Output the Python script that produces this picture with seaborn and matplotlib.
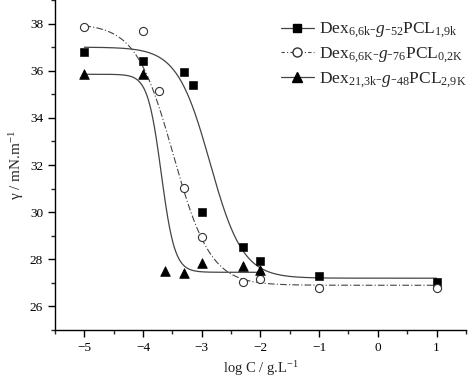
import numpy as np
import pandas as pd
import matplotlib
matplotlib.use('Agg')
import matplotlib.pyplot as plt
from matplotlib.lines import Line2D
from matplotlib.ticker import MultipleLocator
import seaborn as sns

sq_x = [-5, -4, -3.3, -3.15, -3, -2.3, -2, -1, 1]
sq_y = [36.8, 36.43, 35.96, 35.4, 30.02, 28.53, 27.94, 27.3, 27.05]

ci_x = [-5, -4, -3.72, -3.3, -3, -2.3, -2, -1, 1]
ci_y = [37.85, 37.7, 35.13, 31.03, 28.96, 27.05, 27.18, 26.8, 26.8]

tr_x = [-5, -4, -3.63, -3.3, -3, -2.3, -2]
tr_y = [35.85, 35.85, 27.5, 27.43, 27.85, 27.7, 27.55]

labels = [
    r'Dex$_{\mathrm{6{,}6k}}$-$g$-$_{\mathrm{52}}$PCL$_{\mathrm{1{,}9k}}$',
    r'Dex$_{\mathrm{6{,}6K}}$-$g$-$_{\mathrm{76}}$PCL$_{\mathrm{0{,}2K}}$',
    r'Dex$_{\mathrm{21{,}3k}}$-$g$-$_{\mathrm{48}}$PCL$_{\mathrm{2{,}9K}}$',
]

# Boltzmann fit parameters (top, bottom, x0, dx)
fit_sq = (37.0, 27.2, -2.86, 0.28)
fit_ci = (38.0, 26.9, -3.486, 0.318)
fit_tr = (35.85, 27.45, -3.69, 0.115)
# x range covered by each fitted curve
rng_sq = (-5, 1)
rng_ci = (-5, 1)
rng_tr = (-5, -2)


def boltzmann(x, p):
    a1, a2, x0, dx = p
    return a2 + (a1 - a2) / (1 + np.exp((x - x0) / dx))


def fit_curve(p, rng):
    xx = np.linspace(rng[0], rng[1], 400)
    return pd.DataFrame({'x': xx, 'y': boltzmann(xx, p)})


sns.set_style('ticks')
plt.rcParams['font.family'] = ['Liberation Serif', 'DejaVu Serif']
plt.rcParams['mathtext.fontset'] = 'custom'
plt.rcParams['mathtext.rm'] = 'Liberation Serif'
plt.rcParams['mathtext.it'] = 'Liberation Serif:italic'
plt.rcParams['xtick.direction'] = 'out'
plt.rcParams['ytick.direction'] = 'out'

fig = plt.figure(figsize=(4.68, 3.82), dpi=100)
ax = fig.add_axes([0.1175, 0.136, 0.878, 0.864])

line_col = '#444444'
dashdot = (0, (6, 2, 1, 2))
sns.lineplot(data=fit_curve(fit_sq, rng_sq), x='x', y='y', ax=ax, color=line_col, lw=0.9)
sns.lineplot(data=fit_curve(fit_ci, rng_ci), x='x', y='y', ax=ax, color=line_col, lw=0.8,
             linestyle=dashdot)
sns.lineplot(data=fit_curve(fit_tr, rng_tr), x='x', y='y', ax=ax, color=line_col, lw=0.9)

sns.scatterplot(x=sq_x, y=sq_y, ax=ax, marker='s', s=30, color='black', edgecolor='black', zorder=5)
sns.scatterplot(x=ci_x, y=ci_y, ax=ax, marker='o', s=34, facecolor='white', edgecolor='#333333',
                linewidth=0.8, zorder=5)
sns.scatterplot(x=tr_x, y=tr_y, ax=ax, marker='^', s=48, color='black', edgecolor='black', zorder=5)

ax.set_xlim(-5.5, 1.5)
ax.set_ylim(25, 39)
ax.xaxis.set_major_locator(MultipleLocator(1))
ax.xaxis.set_minor_locator(MultipleLocator(0.5))
ax.yaxis.set_major_locator(MultipleLocator(2))
ax.yaxis.set_minor_locator(MultipleLocator(1))
ax.tick_params(which='major', length=5, width=1, labelsize=9.5, colors='black')
ax.tick_params(which='minor', length=3, width=1)
sns.despine(ax=ax)
for s in ['left', 'bottom']:
    ax.spines[s].set_linewidth(1)
    ax.spines[s].set_color('black')

ax.set_xlabel(r'log C / g.L$^{-1}$', fontsize=10.5, labelpad=4)
ax.set_ylabel(r'γ / mN.m$^{-1}$', fontsize=11, labelpad=3)

handles = [
    Line2D([], [], color=line_col, lw=0.9, marker='s', markersize=6, markerfacecolor='black',
           markeredgecolor='black'),
    Line2D([], [], color=line_col, lw=0.8, linestyle=(0, (3, 2, 1, 2)), marker='o', markersize=6.5,
           markerfacecolor='white', markeredgecolor='#333333'),
    Line2D([], [], color=line_col, lw=0.9, marker='^', markersize=7.5, markerfacecolor='black',
           markeredgecolor='black'),
]
ax.legend(handles, labels, loc='upper left', bbox_to_anchor=(0.524, 0.969), frameon=False,
          fontsize=12.5, handlelength=1.9, handletextpad=0.3, labelspacing=0.27, borderaxespad=0.2)

fig.savefig('out.png', dpi=100)
